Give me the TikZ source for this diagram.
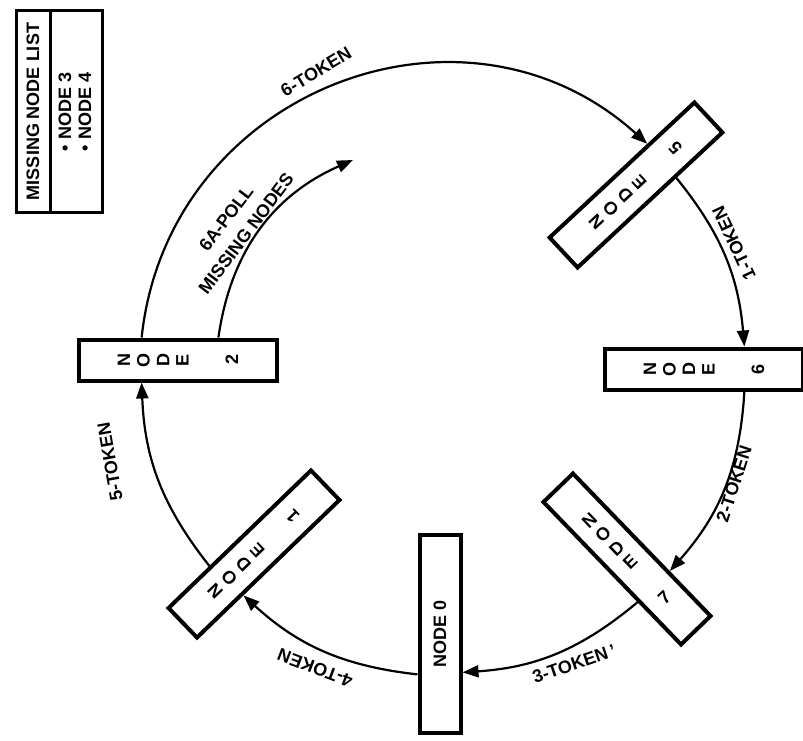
\documentclass[tikz,border=0pt]{standalone}
\usepackage{graphicx}
\usepackage{fontspec}
\setmainfont{Liberation Sans}
\usetikzlibrary{arrows.meta,calc}

% one letter turned on its side, and the stacked station name
\newcommand{\sidechar}[1]{\rotatebox[origin=c]{90}{#1}}
\newcommand{\nodestack}[1]{\sidechar{N}\hspace{7pt}\sidechar{O}\hspace{7pt}\sidechar{D}\hspace{7pt}\sidechar{E}\hspace{37pt}\sidechar{#1}}

\begin{document}
\begin{tikzpicture}[
        x=1pt, y=-1pt,
        >={Triangle[length=16pt,width=12pt]},
        station/.style={draw, line width=4pt, minimum width=198pt, minimum height=41pt, inner sep=0pt, font=\bfseries\fontsize{18}{18}\selectfont},
        listcell/.style={draw, line width=3pt, minimum width=202pt, inner sep=0pt, font=\bfseries\fontsize{18}{20}\selectfont},
        listitem/.style={inner sep=0pt, font=\bfseries\fontsize{18}{20}\selectfont},
        ring/.style={line width=2.2pt},
        tokenlbl/.style={inner sep=0pt, align=center, font=\bfseries\fontsize{18}{25}\selectfont},
    ]
        \useasboundingbox (0,0) rectangle (803,741);
        \fill[white] (0,0) rectangle (803,741);

        % Stations
        \node[station] (node2) at (178,360) {\nodestack{2}};
        \node[station, rotate=43] (node5) at (636,185) {\nodestack{5}};
        \node[station] (node6) at (704,369) {\nodestack{6}};
        \node[station, rotate=-46] (node7) at (627,559) {\nodestack{7}};
        \node[station, rotate=90] (node0) at (440,634) {NODE 0};
        \node[station, rotate=44] (node1) at (254,554) {\nodestack{1}};

        % Missing node list
        \node[listcell, rotate=90, minimum height=34pt] (listhead) at (33,111.5) {MISSING NODE LIST};
        \node[listcell, rotate=90, minimum height=52pt] (listbody) at (76,111.5) {};
        \node[listitem, rotate=90] (item3) at (65,112) {\textbullet\ NODE 3};
        \node[listitem, rotate=90] (item4) at (85,112) {\textbullet\ NODE 4};

        % 1. Token from node 5 to node 6
        \draw[ring, ->] ($(node5.south west)!0.67!(node5.south east)$) to[bend left=17] ($(node6.north west)!0.70!(node6.north east)$);
        \node[tokenlbl, rotate=115] (lbl1) at (734,243) {1-TOKEN};

        % 2. Token from node 6 to node 7
        \draw[ring, ->] ($(node6.south west)!0.70!(node6.south east)$) to[bend left=19] ($(node7.north west)!0.69!(node7.north east)$);
        \node[tokenlbl, rotate=72] (lbl2) at (734,484) {2-TOKEN};

        % 3. Token from node 7 to node 0
        \draw[ring, ->] ($(node7.south west)!0.69!(node7.south east)$) to[bend left=18] ($(node0.south west)!0.31!(node0.south east)$);
        \node[tokenlbl, rotate=19] (lbl3) at (574,664) {3-TOKEN\,'};

        % 4. Token from node 0 to node 1
        \draw[ring, ->] ($(node0.north west)!0.30!(node0.north east)$) to[bend left=18] ($(node1.south west)!0.32!(node1.south east)$);
        \node[tokenlbl, rotate=159] (lbl4) at (315,668) {4-TOKEN};

        % 5. Token from node 1 to node 2
        \draw[ring, ->] ($(node1.north west)!0.30!(node1.north east)$) to[bend left=18] ($(node2.south west)!0.32!(node2.south east)$);
        \node[tokenlbl, rotate=100] (lbl5) at (110,462) {5-TOKEN};

        % 6. Token from node 2 over the top to node 5
        \draw[ring, ->] ($(node2.north west)!0.32!(node2.north east)$) to[bend left=63, looseness=1.17] ($(node5.north west)!0.68!(node5.north east)$);
        \node[tokenlbl, rotate=31] (lbl6) at (316,72) {6-TOKEN};

        % 6A. Poll of the missing nodes
        \coordinate (pollend) at (353,160);
        \draw[ring, ->] ($(node2.north west)!0.70!(node2.north east)$) to[bend left=29] (pollend);
        \node[tokenlbl, rotate=53] (lblpoll) at (236,226) {6A-POLL\\MISSING NODES};
    \end{tikzpicture}
\end{document}
